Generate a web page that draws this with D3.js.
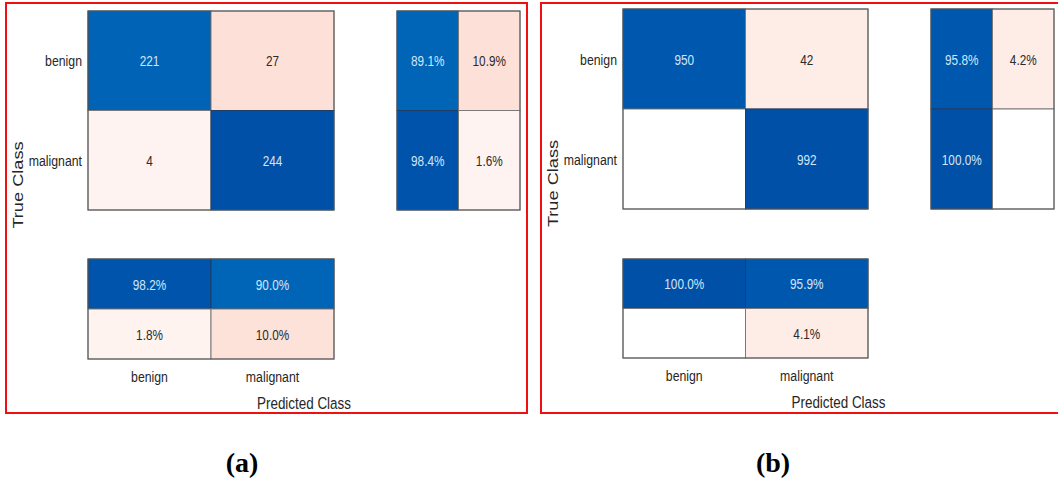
<!DOCTYPE html>
<html><head><meta charset="utf-8">
<script src="https://cdn.jsdelivr.net/npm/d3@7/dist/d3.min.js"></script>
<style>body{margin:0;background:#fff}svg{display:block}</style>
</head><body><svg id="c" width="1058" height="484"></svg>
<script>
// ---- data ----
const classes = ["benign", "malignant"];
const countsA = [[221, 27], [4, 244]];
const countsB = [[950, 42], [0, 992]];
// row summary (per true class): [correct %, incorrect %]
const rowSummaryA = [[89.1, 10.9], [98.4, 1.6]];
const rowSummaryB = [[95.8, 4.2], [100.0, 0]];
// column summary (per predicted class): rows = [correct %, incorrect %]
const colSummaryA = [[98.2, 90.0], [1.8, 10.0]];
const colSummaryB = [[100.0, 95.9], [0, 4.1]];
const captions = ["(a)", "(b)"];
const axisLabels = {x: "Predicted Class", y: "True Class"};

const svg = d3.select("#c");
const blue = d3.scaleLinear().domain([0.9, 1]).range(["#0064b7", "#0050a8"]).clamp(true);
const pink = d3.scaleSqrt().domain([0, 0.111]).range(["#ffffff", "#fde0d7"]).clamp(true);
const txtLight = "#d4e6f6", txtDark = "#2b2b2b", lab = "#262626";

function htext(g, x, y, str, size, sx, anchor, fill, weight, family) {
  return g.append("text")
    .attr("transform", `translate(${x},${y}) scale(${sx},1)`)
    .attr("text-anchor", anchor)
    .attr("font-family", family || "'Liberation Sans', Arial, sans-serif")
    .attr("font-size", size)
    .attr("font-weight", weight || "normal")
    .attr("fill", fill)
    .text(str);
}

function block(g, data, xr, yr, kind, fmt, maxVal) {
  const nr = data.length, nc = data[0].length;
  const x = d3.scaleBand().domain(d3.range(nc)).range(xr);
  const y = d3.scaleBand().domain(d3.range(nr)).range(yr);
  const cells = [];
  data.forEach((row, i) => row.forEach((v, j) => cells.push({i, j, v})));
  cells.forEach(c => {
    const diag = kind(c.i, c.j);
    const frac = c.v / maxVal;
    c.fill = c.v === 0 ? "#ffffff" : (diag ? blue(frac) : pink(frac));
    c.diag = diag;
  });
  g.selectAll(null).data(cells).enter().append("rect")
    .attr("x", d => x(d.j)).attr("y", d => y(d.i))
    .attr("width", x.bandwidth()).attr("height", y.bandwidth())
    .attr("fill", d => d.fill)
    .attr("stroke", d => d.diag && d.v > 0 ? "#1f3f66" : "#7a7a7a")
    .attr("stroke-width", 1);
  g.append("rect").attr("x", xr[0]).attr("y", yr[0])
    .attr("width", xr[1] - xr[0]).attr("height", yr[1] - yr[0])
    .attr("fill", "none").attr("stroke", "#5a5a5a").attr("stroke-width", 1);
  cells.filter(c => c.v !== 0).forEach(c => {
    htext(g, x(c.j) + x.bandwidth() / 2, y(c.i) + y.bandwidth() / 2 + 5.6, fmt(c.v), 15.5, 0.76, "middle",
      c.diag ? txtLight : txtDark);
  });
  return {x, y};
}

function panel(L) {
  const g = svg.append("g");
  const maxC = d3.max(L.counts.flat());
  const m = block(g, L.counts, L.mainX, L.mainY, (i, j) => i === j, v => String(v), maxC);
  block(g, L.rowS, L.rowX, L.mainY, (i, j) => j === 0, v => v.toFixed(1) + "%", 100);
  const c = block(g, L.colS, L.mainX, L.colY, (i, j) => i === 0, v => v.toFixed(1) + "%", 100);
  classes.forEach((name, i) => {
    htext(g, L.mainX[0] - 6, m.y(i) + m.y.bandwidth() / 2 + 5.5, name, 15, 0.82, "end", lab);
  });
  classes.forEach((name, j) => {
    htext(g, c.x(j) + c.x.bandwidth() / 2, L.colY[1] + 23, name, 15, 0.82, "middle", lab);
  });
  htext(g, (L.mainX[0] + L.rowX[1]) / 2, L.colY[1] + 50, axisLabels.x, 17, 0.79, "middle", lab);
  g.append("text")
    .attr("transform", `translate(${L.yLabX},${(L.mainY[0] + L.colY[1]) / 2}) rotate(-90) scale(1.3,1)`)
    .attr("text-anchor", "middle")
    .attr("font-family", "'Liberation Sans', Arial, sans-serif")
    .attr("font-size", 14).attr("fill", lab)
    .text(axisLabels.y);
  g.append("rect").attr("x", L.frame[0]).attr("y", L.frame[1])
    .attr("width", L.frame[2] - L.frame[0]).attr("height", L.frame[3] - L.frame[1])
    .attr("fill", "none").attr("stroke", "#f01010").attr("stroke-width", 2);
  htext(g, L.capX, 472, L.caption, 28, 1, "middle", "#000", "bold", "'Liberation Serif', 'Times New Roman', serif");
}

panel({counts: countsA, rowS: rowSummaryA, colS: colSummaryA,
  mainX: [88, 334], mainY: [11, 210], rowX: [397, 520], colY: [259, 359],
  yLabX: 23, frame: [6, 3, 527, 413], capX: 242, caption: captions[0]});
panel({counts: countsB, rowS: rowSummaryB, colS: colSummaryB,
  mainX: [623, 868], mainY: [9, 209], rowX: [931, 1054], colY: [259, 358],
  yLabX: 558, frame: [541, 3, 1070, 413], capX: 773, caption: captions[1]});
</script></body></html>
